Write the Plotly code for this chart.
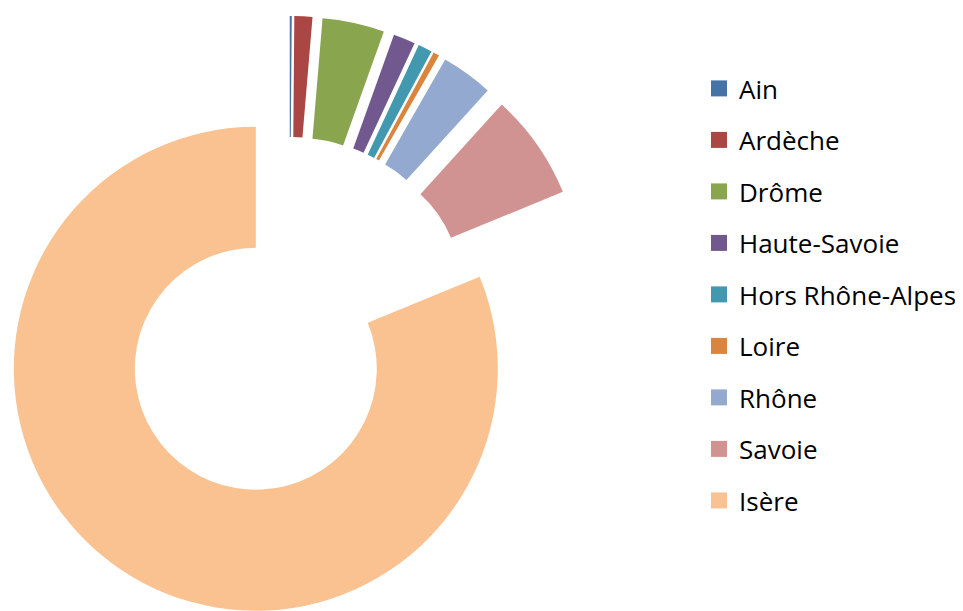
import numpy as np
import plotly.graph_objects as go

# ---- data ----
labels = ["Ain", "Ardèche", "Drôme", "Haute-Savoie", "Hors Rhône-Alpes",
          "Loire", "Rhône", "Savoie", "Isère"]
values = [1, 9, 31, 11, 7, 3, 26, 53, 609]
colors = ["#4572A7", "#AA4643", "#89A54E", "#71588F", "#4198AF",
          "#DB843D", "#93A9CF", "#D19392", "#FAC191"]

# ---- layout constants ----
W, H = 963, 611
R = 242.0               # outer radius (px)
CX, CY = 281.5, 310.5   # centre of the (un-exploded) ring (px)
PULL = 0.25             # every slice exploded by 25 % of the radius
HOLE = 0.5

vals = np.array(values, dtype=float)
frac = vals / vals.sum()
ends = np.cumsum(frac) * 360.0
starts = ends - frac * 360.0
mids = np.radians((starts + ends) / 2.0)

fig = go.Figure()

# one pie per exploded slice (only that slice painted), so that every slice
# can be pulled out like in the original without shrinking the ring
for i, lab in enumerate(labels):
    cx = CX + PULL * R * np.sin(mids[i])
    cy = CY - PULL * R * np.cos(mids[i])
    x0 = max(0.0, (cx - R) / W)
    x1 = min(1.0, (cx + R) / W)
    y0 = max(0.0, 1 - (cy + R) / H)
    y1 = min(1.0, 1 - (cy - R) / H)
    cols = ["rgba(0,0,0,0)"] * len(labels)
    cols[i] = colors[i]
    fig.add_trace(go.Pie(
        labels=labels, values=values,
        marker=dict(colors=cols, line=dict(width=0)),
        hole=HOLE, sort=False, direction="clockwise", rotation=0,
        textinfo="none", showlegend=False, hoverinfo="skip",
        domain=dict(x=[x0, x1], y=[y0, y1]),
    ))

# legend entries
for lab, col in zip(labels, colors):
    fig.add_trace(go.Scatter(
        x=[None], y=[None], mode="markers", name=lab, legendgroup=lab,
        marker=dict(symbol="square", size=16, color=col),
        hoverinfo="skip",
    ))

fig.update_layout(
    width=W, height=H,
    margin=dict(l=0, r=0, t=0, b=0),
    paper_bgcolor="white", plot_bgcolor="white",
    xaxis=dict(visible=False), yaxis=dict(visible=False),
    showlegend=True,
    legend=dict(
        x=691 / W, y=1 - 57 / H, xanchor="left", yanchor="top",
        font=dict(family="Open Sans", size=26, color="#000000"),
        traceorder="grouped", tracegroupgap=14.7,
        bgcolor="rgba(0,0,0,0)", itemclick=False, itemdoubleclick=False,
    ),
)

fig.write_html("out.html")
